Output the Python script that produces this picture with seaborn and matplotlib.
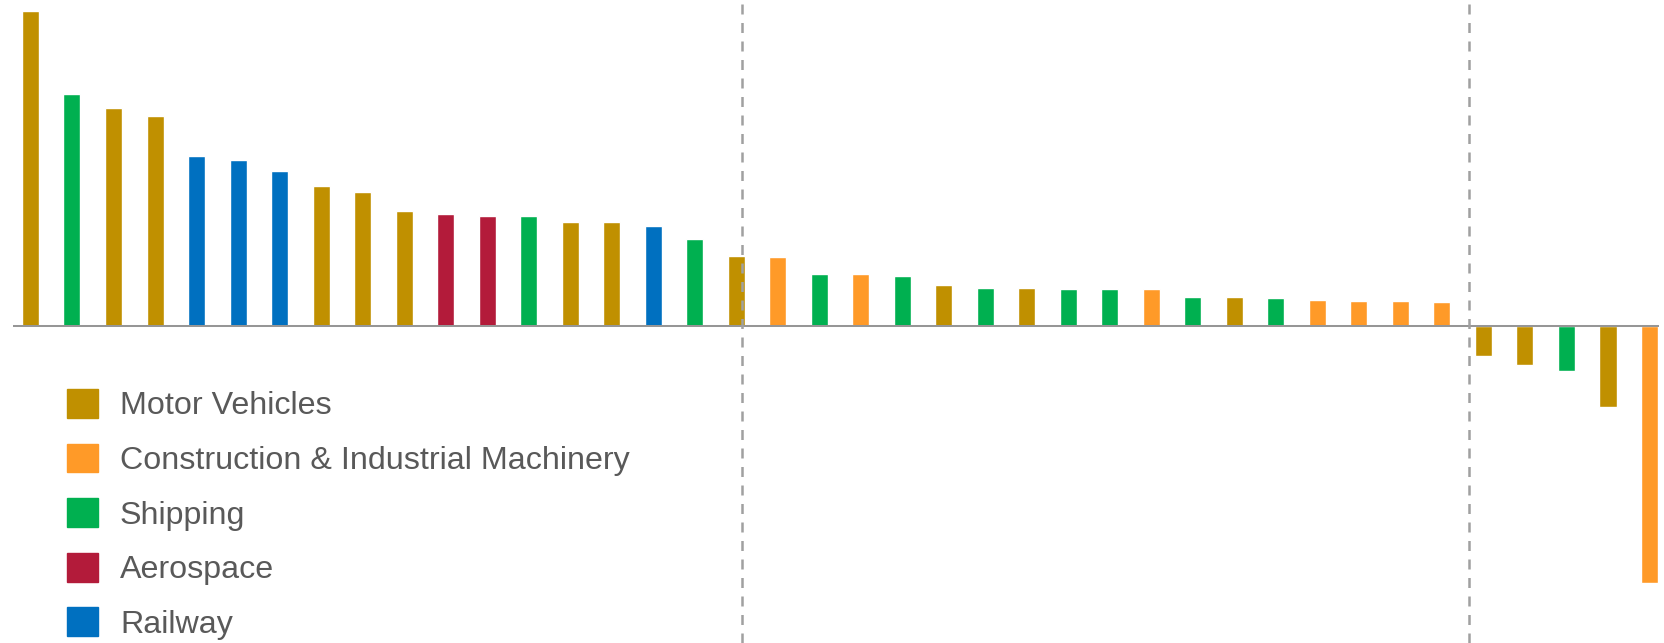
import matplotlib
matplotlib.use('Agg')
import matplotlib.pyplot as plt
import matplotlib.patches as mpatches
import seaborn as sns
import pandas as pd

# bar values (arbitrary units)
values = [31.5, 23.2, 21.8, 21.0, 17.0, 16.6, 15.5, 14.0, 13.4, 11.5,
          11.2, 11.0, 11.0, 10.4, 10.4, 10.0, 8.7, 7.0, 6.9, 5.2,
          5.2, 5.0, 4.1, 3.8, 3.8, 3.7, 3.7, 3.7, 2.9, 2.9,
          2.8, 2.6, 2.5, 2.5, 2.4, -3.0, -3.9, -4.5, -8.1, -25.7]

MV = 'Motor Vehicles'
CM = 'Construction & Industrial Machinery'
SH = 'Shipping'
AE = 'Aerospace'
RW = 'Railway'

sectors = [MV, SH, MV, MV, RW, RW, RW, MV, MV, MV,
           AE, AE, SH, MV, MV, RW, SH, MV, CM, SH,
           CM, SH, MV, SH, MV, SH, SH, CM, SH, MV,
           SH, CM, CM, CM, CM, MV, MV, SH, MV, CM]

legend_order = [MV, CM, SH, AE, RW]
colors = {MV: '#C09000', CM: '#FF9A28', SH: '#00B050', AE: '#B31B3A', RW: '#0070C0'}

# group separators (position in bar units)
separators = [17.15, 34.66]

df = pd.DataFrame({'idx': range(len(values)), 'value': values, 'sector': sectors})

sns.set_style('white')
plt.rcParams['font.family'] = ['Liberation Sans', 'DejaVu Sans']

fig = plt.figure(figsize=(16.64, 6.43), dpi=100)
ax = fig.add_axes([0, 0, 1, 1])

sns.barplot(data=df, x='idx', y='value', hue='sector', hue_order=legend_order,
            palette=colors, dodge=False, width=0.41, saturation=1,
            legend=False, ax=ax)

ax.set_xlim(-0.734, 39.349)
ax.set_ylim(-31.73, 32.57)
ax.axis('off')

# zero line
ax.hlines(0, -0.42, 39.23, color='#969696', lw=1.45, zorder=5)

# dashed separators
for s in separators:
    ax.axvline(s, color='#A0A0A0', lw=1.8, dashes=(4.0, 3.4), zorder=6)

fsize = 23.2
fpx = fsize * 100 / 72
handles = [mpatches.Patch(color=colors[k], label=k) for k in legend_order]
ax.legend(handles=handles, loc='upper left', bbox_to_anchor=(67 / 1664, 1 - 389 / 643),
          bbox_transform=fig.transFigure, frameon=False, fontsize=fsize,
          handlelength=31 / fpx, handleheight=32 / fpx, handletextpad=22 / fpx,
          labelspacing=0.69, borderpad=0, borderaxespad=0, labelcolor='#595959')

fig.savefig('out.png', dpi=100)
